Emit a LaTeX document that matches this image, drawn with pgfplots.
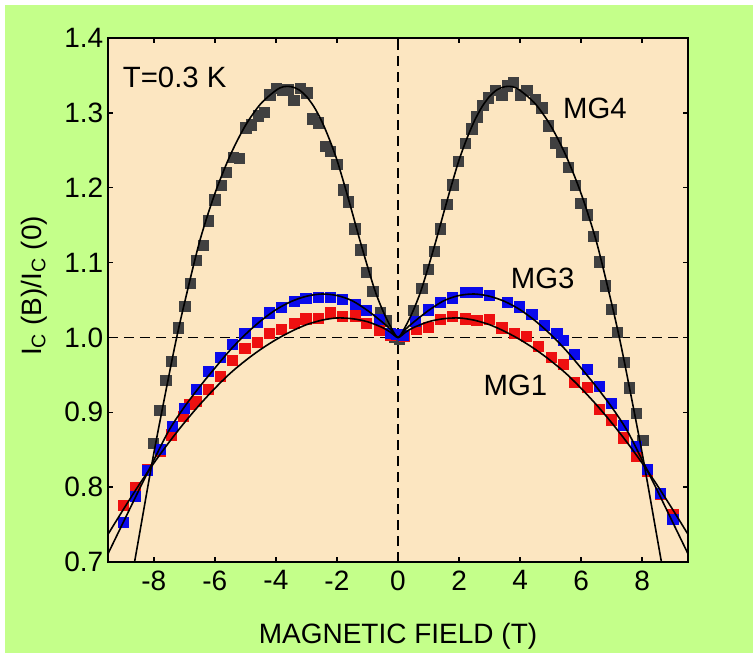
\documentclass[border=0pt]{standalone}
\usepackage{pgfplots}
\pgfplotsset{compat=1.18}
\usepackage{fontspec}
\setmainfont{Liberation Sans}
\definecolor{bggreen}{RGB}{196,255,138}
\definecolor{peach}{RGB}{252,230,193}
\definecolor{mggray}{RGB}{64,64,64}
\definecolor{mgred}{RGB}{238,16,16}
\definecolor{mgblue}{RGB}{10,10,235}
\begin{document}
\begin{tikzpicture}
\path[use as bounding box,fill=white] (-81pt,-68.25pt) rectangle (483.75pt,421.5pt);
\fill[bggreen] (-77.25pt,-68.25pt) rectangle (483.75pt,417.75pt);
\begin{axis}[
  scale only axis,
  width=435pt, height=393pt,
  xmin=-9.5, xmax=9.5, ymin=0.7, ymax=1.4,
  xtick={-8,-6,-4,-2,0,2,4,6,8},
  ytick={0.7,0.8,0.9,1.0,1.1,1.2,1.3,1.4},
  /pgf/number format/assume math mode=true,
  yticklabel style={/pgf/number format/fixed,/pgf/number format/fixed zerofill,/pgf/number format/precision=1},
  xticklabel style={yshift=-3pt},
  tick label style={font=\fontsize{21pt}{25pt}\selectfont},
  tick align=inside,
  major tick length=4pt,
  every tick/.style={black, line width=1.1pt},
  axis line style={line width=1.4pt},
  axis background/.style={fill=peach},
  xlabel={MAGNETIC FIELD (T)},
  xlabel style={at={(axis description cs:0.5,-0.1546)}, anchor=base, inner sep=0pt, font=\fontsize{21pt}{25pt}\selectfont},
  ylabel={I\textsubscript{C} (B)/I\textsubscript{C} (0)},
  ylabel style={at={(axis description cs:-0.1276,0.527)}, anchor=center, inner sep=0pt, font=\fontsize{21pt}{25pt}\selectfont},
  clip mode=individual,
]
\addplot[black, line width=1.1pt, dash pattern=on 7.5pt off 4.5pt, forget plot] coordinates {(-9.5,1.0) (9.5,1.0)};
\addplot[black, line width=1.1pt, dash pattern=on 7.5pt off 4.5pt, forget plot] coordinates {(0,0.7) (0,1.4)};
% MG4 data
\addplot[only marks, mark=square*, mark size=3.9pt, mggray, mark options={draw=none, fill=mggray}] coordinates {
(-8.02,0.859) (-7.80,0.903) (-7.61,0.943) (-7.42,0.968) (-7.20,1.013) (-6.98,1.042)
(-6.80,1.072) (-6.60,1.103) (-6.38,1.123) (-6.22,1.156) (-6.00,1.184) (-5.78,1.203)
(-5.62,1.221) (-5.40,1.241) (-5.20,1.239) (-4.99,1.280) (-4.80,1.284) (-4.58,1.296)
(-4.39,1.301) (-4.20,1.324) (-3.98,1.333) (-3.78,1.331) (-3.60,1.331) (-3.41,1.317)
(-3.21,1.333) (-2.99,1.327) (-2.81,1.292) (-2.61,1.287) (-2.39,1.255) (-2.21,1.249)
(-2.01,1.231) (-1.79,1.197) (-1.62,1.181) (-1.41,1.145) (-1.22,1.117) (-1.03,1.087)
(-0.83,1.062) (-0.59,1.034) (-0.39,1.022) (-0.10,1.000)
(0.05,0.998) (0.50,1.036) (0.78,1.066) (0.99,1.091) (1.18,1.115) (1.38,1.145)
(1.60,1.178) (1.79,1.204) (1.98,1.235) (2.20,1.259) (2.42,1.279) (2.58,1.295)
(2.78,1.310) (2.96,1.320) (3.18,1.330) (3.40,1.324) (3.58,1.336) (3.78,1.341)
(4.00,1.324) (4.22,1.330) (4.49,1.318) (4.71,1.307) (4.93,1.283) (5.17,1.260)
(5.37,1.247) (5.58,1.227) (5.80,1.203) (5.99,1.179) (6.21,1.164) (6.40,1.135)
(6.60,1.101) (6.79,1.069) (6.98,1.038) (7.19,1.007) (7.39,0.967) (7.58,0.933)
(7.80,0.899) (8.02,0.863)
};
% MG1 data
\addplot[only marks, mark=square*, mark size=3.8pt, mgred, mark options={draw=none, fill=mgred}] coordinates {
(-9.01,0.776) (-8.62,0.800) (-8.21,0.824) (-7.80,0.848) (-7.42,0.870) (-7.04,0.895)
(-6.82,0.911) (-6.60,0.915) (-6.22,0.931) (-5.81,0.948) (-5.42,0.970) (-5.02,0.985)
(-4.61,0.994) (-4.22,1.005) (-3.81,1.011) (-3.41,1.019) (-3.02,1.025) (-2.61,1.026)
(-2.23,1.033) (-1.83,1.028) (-1.41,1.029) (-1.03,1.019) (-0.61,1.009) (-0.26,1.003)
(0.20,1.002) (0.61,1.011) (0.99,1.014) (1.38,1.024) (1.79,1.028) (2.20,1.025)
(2.58,1.023) (3.00,1.024) (3.40,1.013) (3.80,1.006) (4.20,1.001) (4.60,0.988)
(5.01,0.973) (5.40,0.964) (5.77,0.940) (6.19,0.933) (6.59,0.904) (6.98,0.890)
(7.39,0.866) (7.80,0.842) (8.17,0.821) (8.59,0.790) (9.00,0.764)
};
% MG3 data
\addplot[only marks, mark=square*, mark size=3.8pt, mgblue, mark options={draw=none, fill=mgblue}] coordinates {
(-9.01,0.753) (-8.62,0.788) (-8.21,0.822) (-7.80,0.851) (-7.40,0.881) (-7.01,0.905)
(-6.60,0.931) (-6.22,0.955) (-5.81,0.973) (-5.42,0.991) (-5.02,1.006) (-4.61,1.020)
(-4.22,1.033) (-3.81,1.040) (-3.41,1.048) (-3.02,1.052) (-2.61,1.054) (-2.23,1.054)
(-1.83,1.051) (-1.41,1.044) (-1.03,1.036) (-0.61,1.024) (-0.26,1.006) (-0.04,1.004)
(0.17,1.003) (0.56,1.022) (0.99,1.037) (1.38,1.047) (1.79,1.053) (2.20,1.060)
(2.58,1.060) (3.00,1.056) (3.58,1.047) (3.98,1.041) (4.38,1.031) (4.79,1.016)
(5.20,1.006) (5.40,0.996) (5.77,0.977) (6.19,0.958) (6.59,0.935) (6.98,0.912)
(7.39,0.883) (7.80,0.855) (8.17,0.824) (8.59,0.792) (9.00,0.757)
};
% fits
\addplot[black, line width=1.2pt, smooth] coordinates {
(-8.75,0.672) (-8.5,0.730) (-8.0,0.845) (-7.5,0.950) (-7.25,1.000) (-7.0,1.045)
(-6.5,1.128) (-6.0,1.192) (-5.5,1.243) (-5.0,1.283) (-4.5,1.312) (-4.0,1.330)
(-3.75,1.335) (-3.5,1.335) (-3.25,1.331) (-3.0,1.322) (-2.75,1.308) (-2.5,1.289)
(-2.25,1.265) (-2.0,1.237) (-1.75,1.203) (-1.5,1.167) (-1.25,1.130) (-1.0,1.095)
(-0.75,1.062) (-0.5,1.036) (-0.25,1.015) (0,1.000)
(0.25,1.015) (0.5,1.036) (0.75,1.062) (1.0,1.095) (1.25,1.130) (1.5,1.167)
(1.75,1.203) (2.0,1.237) (2.25,1.265) (2.5,1.289) (2.75,1.308) (3.0,1.322)
(3.25,1.331) (3.5,1.335) (3.75,1.335) (4.0,1.330) (4.5,1.312) (5.0,1.283)
(5.5,1.243) (6.0,1.192) (6.5,1.128) (7.0,1.045) (7.25,1.000) (7.5,0.950)
(8.0,0.845) (8.5,0.730) (8.75,0.672)
};
\addplot[black, line width=1.2pt, smooth] coordinates {
(-9.5,0.711) (-9.0,0.753) (-8.5,0.795) (-8.0,0.836) (-7.5,0.876) (-7.0,0.907)
(-6.5,0.934) (-6.0,0.959) (-5.5,0.983) (-5.0,1.004) (-4.5,1.022) (-4.0,1.037)
(-3.5,1.048) (-3.0,1.055) (-2.5,1.058) (-2.0,1.056) (-1.5,1.049) (-1.0,1.036)
(-0.5,1.020) (-0.25,1.011) (0,1.000)
(0.25,1.011) (0.5,1.020) (1.0,1.036) (1.5,1.049) (2.0,1.056) (2.5,1.058)
(3.0,1.055) (3.5,1.048) (4.0,1.037) (4.5,1.022) (5.0,1.004) (5.5,0.983)
(6.0,0.959) (6.5,0.934) (7.0,0.907) (7.5,0.876) (8.0,0.836) (8.5,0.795)
(9.0,0.753) (9.5,0.711)
};
\addplot[black, line width=1.2pt, smooth] coordinates {
(-9.5,0.737) (-9.0,0.770) (-8.5,0.802) (-8.0,0.832) (-7.5,0.860) (-7.0,0.886)
(-6.5,0.910) (-6.0,0.932) (-5.5,0.952) (-5.0,0.969) (-4.5,0.984) (-4.0,0.997)
(-3.5,1.008) (-3.0,1.017) (-2.5,1.023) (-2.0,1.026) (-1.5,1.025) (-1.0,1.021)
(-0.5,1.013) (-0.25,1.007) (0,1.000)
(0.25,1.007) (0.5,1.013) (1.0,1.021) (1.5,1.025) (2.0,1.026) (2.5,1.023)
(3.0,1.017) (3.5,1.008) (4.0,0.997) (4.5,0.984) (5.0,0.969) (5.5,0.952)
(6.0,0.932) (6.5,0.910) (7.0,0.886) (7.5,0.860) (8.0,0.832) (8.5,0.802)
(9.0,0.770) (9.5,0.737)
};
\node[anchor=base west, inner sep=0pt, font=\fontsize{22pt}{26pt}\selectfont] at (axis cs:-9.02,1.334) {T=0.3 K};
\node[anchor=base west, inner sep=0pt, font=\fontsize{22pt}{26pt}\selectfont] at (axis cs:5.40,1.292) {MG4};
\node[anchor=base west, inner sep=0pt, font=\fontsize{22pt}{26pt}\selectfont] at (axis cs:3.69,1.066) {MG3};
\node[anchor=base west, inner sep=0pt, font=\fontsize{22pt}{26pt}\selectfont] at (axis cs:2.80,0.923) {MG1};
\end{axis}
\end{tikzpicture}
\end{document}
